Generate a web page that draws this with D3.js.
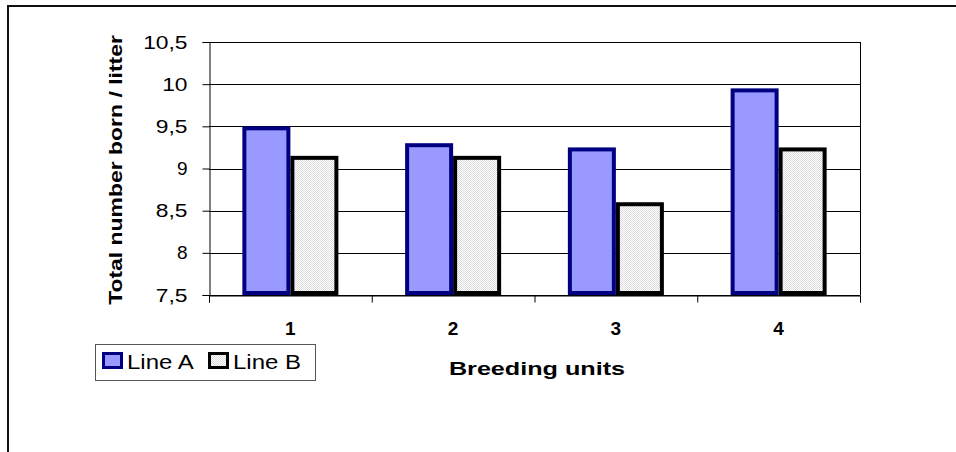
<!DOCTYPE html>
<html><head><meta charset="utf-8">
<script src="https://cdn.jsdelivr.net/npm/d3@7"></script>
<style>
body{margin:0;background:#fff}
svg{display:block}
text{font-family:Arial,"Liberation Sans",Helvetica,sans-serif;fill:#000}
</style>
</head><body>
<svg id="c" width="956" height="452"></svg>
<script>
// ---- data ----
const categories = ["1", "2", "3", "4"];
const seriesNames = ["Line A", "Line B"];
const lineA = [9.5, 9.3, 9.25, 9.95];
const lineB = [9.15, 9.15, 8.6, 9.25];
const yTickValues = [7.5, 8, 8.5, 9, 9.5, 10, 10.5];
const yTickLabels = ["7,5", "8", "8,5", "9", "9,5", "10", "10,5"];
const xTitle = "Breeding units";
const yTitle = "Total number born / litter";

// ---- layout ----
const svg = d3.select("#c");
const L = 209, R = 860, T = 42, B = 295;

const x = d3.scaleBand().domain(categories).range([L, R]).paddingInner(0.41).paddingOuter(0.205);
const xs = d3.scaleBand().domain(seriesNames).range([0, x.bandwidth()]);
const xb = d3.scaleLinear().domain([0, categories.length]).range([L, R]);
const y = d3.scaleLinear().domain([7.5, 10.5]).range([B, T]);

function stretch(sel, f) {
  sel.each(function () {
    const w = this.getComputedTextLength();
    if (this.textContent.length > 1) {
      d3.select(this).attr("textLength", w * f).attr("lengthAdjust", "spacingAndGlyphs");
    }
  });
}

// outer frame
svg.append("rect").attr("x", 8).attr("y", 6).attr("width", 1200).attr("height", 1000)
  .attr("fill", "none").attr("stroke", "#111").attr("stroke-width", 2);

// pattern for Line B
const defs = svg.append("defs");
const pat = defs.append("pattern").attr("id", "dots").attr("width", 2).attr("height", 2)
  .attr("patternUnits", "userSpaceOnUse");
pat.append("rect").attr("width", 2).attr("height", 2).attr("fill", "#fff");
pat.append("rect").attr("x", 0).attr("y", 0).attr("width", 1).attr("height", 1).attr("fill", "#dcdcdc");
pat.append("rect").attr("x", 1).attr("y", 1).attr("width", 1).attr("height", 1).attr("fill", "#dcdcdc");

// gridlines
svg.append("g").selectAll("line").data(yTickValues).join("line")
  .attr("x1", L).attr("x2", R)
  .attr("y1", d => Math.round(y(d)) + 0.5).attr("y2", d => Math.round(y(d)) + 0.5)
  .attr("stroke", "#000").attr("stroke-width", 1);
// right border of plot
svg.append("line").attr("x1", R + 0.5).attr("x2", R + 0.5).attr("y1", T).attr("y2", B)
  .attr("stroke", "#000");

// bars
const seriesData = [
  { name: seriesNames[0], values: lineA, fill: "#9999FF", stroke: "#000080" },
  { name: seriesNames[1], values: lineB, fill: "url(#dots)", stroke: "#000" }
];
const sw = 4;
seriesData.forEach(s => {
  svg.append("g").selectAll("rect").data(categories).join("rect")
    .attr("x", (c) => x(c) + xs(s.name) + sw / 2)
    .attr("width", xs.bandwidth() - sw)
    .attr("y", (c, i) => y(s.values[i]) + sw / 2)
    .attr("height", (c, i) => y(7.5) - y(s.values[i]) - sw)
    .attr("fill", s.fill).attr("stroke", s.stroke).attr("stroke-width", sw);
});

// y axis
const yAxis = svg.append("g").attr("transform", `translate(${L + 0.5},0)`)
  .call(d3.axisLeft(y).tickValues(yTickValues).tickFormat((d, i) => yTickLabels[i]).tickSize(7).tickPadding(15));
yAxis.select(".domain").attr("stroke", "#000");
yAxis.selectAll(".tick line").attr("stroke", "#000");
yAxis.selectAll("text").attr("font-size", 19).style("font-family", "Arial, 'Liberation Sans', sans-serif");
stretch(yAxis.selectAll("text"), 1.2);

// x axis line and boundary ticks
const xAxisB = svg.append("g").attr("transform", `translate(0,${B + 0.5})`)
  .call(d3.axisBottom(xb).tickValues(d3.range(categories.length + 1)).tickFormat("").tickSize(7));
xAxisB.select(".domain").attr("stroke", "#000");
xAxisB.selectAll(".tick line").attr("stroke", "#000");

// x labels
svg.append("g").selectAll("text").data(categories).join("text")
  .attr("x", c => x(c) + x.bandwidth() / 2)
  .attr("y", B + 40)
  .attr("text-anchor", "middle").attr("font-size", 19).attr("font-weight", "bold")
  .text(c => c);

// axis titles
const xt = svg.append("text").attr("x", 537).attr("y", 375).attr("text-anchor", "middle")
  .attr("font-size", 18.5).attr("font-weight", "bold").text(xTitle);
stretch(xt, 1.36);
const yt = svg.append("text").attr("transform", `translate(122,170) rotate(-90)`)
  .attr("text-anchor", "middle").attr("font-size", 18.5).attr("font-weight", "bold").text(yTitle);
stretch(yt, 1.24);

// legend
const lg = svg.append("g");
lg.append("rect").attr("x", 95.5).attr("y", 344.5).attr("width", 220).attr("height", 36)
  .attr("fill", "#fff").attr("stroke", "#555").attr("stroke-width", 1);
const legX = [102, 208];
seriesData.forEach((s, i) => {
  lg.append("rect").attr("x", legX[i] + 1.5).attr("y", 353.5).attr("width", 18).attr("height", 14)
    .attr("fill", s.fill).attr("stroke", s.stroke).attr("stroke-width", 3);
  const t = lg.append("text").attr("x", legX[i] + 25).attr("y", 369).attr("font-size", 20).text(s.name);
  stretch(t, 1.2);
});
</script>
</body></html>
